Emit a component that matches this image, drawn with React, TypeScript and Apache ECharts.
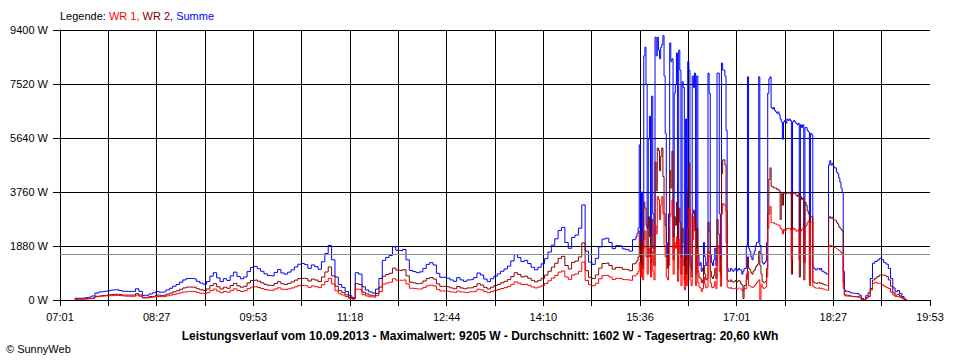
import React, { useEffect, useRef } from "react";
import * as echarts from "echarts";

// ---- axis definition ----
const AXIS_START = "07:01";
const AXIS_END = "19:53";
const GRID_DIVISIONS = 18;
const Y_MAX = 9400;
const Y_STEP = 1880;
const AVERAGE_W = 1602;

const LEGEND_LABEL = "Legende: ";
const SERIES_NAMES = ["WR 1", "WR 2", "Summe"];
const TITLE =
  "Leistungsverlauf vom 10.09.2013 - Maximalwert: 9205 W - Durchschnitt: 1602 W - Tagesertrag: 20,60 kWh";
const COPYRIGHT = "\u00A9 SunnyWeb";

// ---- morning: samples every 3 minutes from 07:14 ----
const MORNING_START = "07:14";
const MORNING_STEP = 3;
const morningSum = [
  60, 60, 70, 90, 110, 140, 240, 280, 300, 320,
  340, 355, 360, 330, 305, 300, 300, 300, 390, 300,
  160, 170, 210, 250, 295, 270, 290, 350, 410, 480,
  540, 620, 700, 750, 750, 730, 650, 590, 550, 640,
  830, 950, 770, 640, 740, 680, 840, 970, 820, 740,
  800, 990, 1130, 1170, 1090, 1000, 910, 850, 840, 960,
  1060, 940, 900, 970, 1050, 1150, 1245, 1270, 1230, 1100,
  1220, 1160, 1070, 1330, 1620, 1900, 1400, 800, 540, 440,
  300, 150, 80, 950, 900, 460, 350, 280, 240, 380,
  750, 1380, 1480, 1550, 1850, 1730, 1710, 1760, 1400, 1030,
  990, 950, 980, 1100, 1240, 1300, 1220, 930, 790, 790,
  760, 700, 650, 780, 700, 650, 700, 720, 780, 940,
  870, 730, 640, 740, 830, 910, 1000, 1080, 1180, 1360,
  1580, 1480, 1340, 1380, 1270, 1140, 1050, 1140, 1260, 1440,
  1670, 1910, 2130, 2420, 2530, 2000, 1800, 2180, 2260, 2500,
  3310, 1700, 1320, 1240, 1450, 1850, 2120, 2150, 2000, 1790,
  1890, 1880, 1780, 1750, 1700, 2100,
];
const morningWR2 = [
  30, 30, 40, 50, 60, 80, 130, 150, 160, 170,
  190, 200, 200, 180, 170, 170, 170, 170, 220, 170,
  90, 95, 120, 140, 170, 155, 170, 205, 240, 285,
  320, 370, 420, 450, 450, 440, 390, 355, 330, 385,
  500, 570, 460, 385, 445, 410, 505, 580, 490, 445,
  480, 595, 680, 700, 655, 600, 545, 510, 505, 575,
  635, 565, 540, 580, 630, 690, 745, 760, 740, 660,
  730, 695, 640, 800, 975, 1150, 840, 480, 325, 265,
  180, 90, 50, 570, 540, 275, 210, 170, 145, 230,
  450, 830, 890, 930, 1110, 1040, 1025, 1055, 840, 620,
  595, 570, 590, 660, 745, 780, 730, 560, 475, 475,
  455, 420, 390, 470, 420, 390, 420, 430, 470, 565,
  520, 440, 385, 445, 500, 545, 600, 650, 710, 815,
  950, 890, 805, 830, 760, 685, 630, 685, 755, 865,
  1000, 1145, 1280, 1450, 1520, 1200, 1080, 1310, 1355, 1500,
  1990, 1020, 790, 745, 870, 1110, 1270, 1290, 1200, 1075,
  1135, 1130, 1070, 1050, 1020, 1260,
];
const morningWR1 = [
  30, 30, 30, 40, 50, 60, 110, 130, 140, 150,
  150, 155, 160, 150, 135, 130, 130, 130, 170, 130,
  70, 75, 90, 110, 125, 115, 120, 145, 170, 195,
  220, 250, 280, 300, 300, 290, 260, 235, 220, 255,
  330, 380, 310, 255, 295, 270, 335, 390, 330, 295,
  320, 395, 450, 470, 435, 400, 365, 340, 335, 385,
  425, 375, 360, 390, 420, 460, 500, 510, 490, 440,
  490, 465, 430, 530, 645, 750, 560, 320, 215, 175,
  120, 60, 30, 380, 360, 185, 140, 110, 95, 150,
  300, 550, 590, 620, 740, 690, 685, 705, 560, 410,
  395, 380, 390, 440, 495, 520, 490, 370, 315, 315,
  305, 280, 260, 310, 280, 260, 280, 290, 310, 375,
  350, 290, 255, 295, 330, 365, 400, 430, 470, 545,
  630, 590, 535, 550, 510, 455, 420, 455, 505, 575,
  670, 765, 850, 970, 1010, 800, 720, 870, 905, 1000,
  1320, 680, 530, 495, 580, 740, 850, 860, 800, 715,
  755, 750, 710, 700, 680, 840,
];

// ---- afternoon: samples every minute from 15:32 ----
const AFTERNOON_START = "15:32";
const AFTERNOON_STEP = 1;
const afternoonSum = [
  2200, 2320, 2500, 5400, 2000, 3760, 1800, 8500, 8800, 7500,
  2500, 5600, 6400, 2200, 7100, 3000, 1800, 9150, 8500, 9150,
  8700, 8400, 8800, 8900, 9205, 7800, 5800, 2000, 1500, 3000,
  8950, 8300, 8400, 2200, 7200, 7500, 8600, 1700, 8700, 8000,
  1500, 7600, 7400, 1200, 6300, 1400, 8300, 8000, 1500, 1100,
  7800, 7400, 7900, 1300, 7800, 1600, 1200, 1300, 1000, 1100,
  2000, 1500, 1200, 1300, 7900, 7200, 1600, 1300, 1200, 1400,
  1800, 1200, 7900, 7900, 3000, 1400, 8250, 8000, 8000, 7800,
  5900, 1100, 1000, 1000, 1100, 1050, 1000, 1050, 1100, 1000,
  1050, 1100, 1050, 1050, 900, 1000, 1100, 1100, 1900, 7770,
  1800, 1700, 1500, 1400, 1600, 1700, 1900, 2000, 2000, 7770,
  1900, 1600, 1300, 1250, 1300, 1350, 2000, 7200, 7700, 7770,
  6700, 6650, 6700, 6600, 6550, 6500, 6550, 6450, 6300, 6200,
  5600, 6200, 6250, 6150, 6300, 6250, 6300, 6250, 1500, 6200,
  6250, 6200, 6150, 6100, 6150, 1400, 6100, 6000, 6100, 1300,
  6000, 6000, 5900, 5850, 1200, 5800, 5750, 1150, 1100, 1050,
  1050, 1100, 1100, 1050, 1100, 1000, 1000, 950, 950, 900,
  900, 4700, 4850, 4700, 4750, 4650, 4600, 4600, 4450, 4400,
  4250, 4100, 3900, 3750, 1000, 350, 300,
];
const afternoonWR2 = [
  1320, 1380, 1500, 2400, 1200, 2000, 1100, 3400, 3200, 2600,
  1500, 2900, 2200, 1300, 2800, 1800, 1200, 4800, 3800, 5290,
  5200, 4500, 5000, 5290, 4300, 3000, 2600, 1500, 1100, 1900,
  4500, 3900, 5180, 1400, 2900, 2600, 3400, 1100, 3200, 2700,
  900, 2500, 2000, 700, 1500, 900, 3800, 4760, 1200, 800,
  3000, 3130, 2900, 900, 2500, 1000, 800, 750, 600, 700,
  1200, 900, 700, 750, 2700, 2400, 1000, 800, 750, 850,
  1100, 750, 2800, 2300, 1600, 850, 4400, 4880, 4880, 4700,
  3100, 700, 650, 650, 700, 650, 620, 640, 680, 620,
  650, 680, 650, 560, 520, 50, 500, 520, 900, 1500,
  1100, 1050, 950, 900, 1000, 1050, 1150, 1200, 1250, 1700,
  1200, 900, 650, 600, 620, 650, 1100, 3000, 4200, 4600,
  3950, 3950, 3900, 3900, 3900, 3850, 3850, 3800, 2800, 3700,
  3300, 3720, 3700, 3700, 3750, 3720, 3750, 3700, 900, 3700,
  3750, 3700, 3650, 3600, 3700, 800, 3600, 3500, 3550, 700,
  3400, 3300, 3100, 3000, 700, 2900, 2900, 650, 600, 580,
  570, 600, 620, 580, 600, 560, 560, 530, 520, 500,
  500, 2850, 2900, 2850, 2880, 2800, 2780, 2770, 2700, 2650,
  2550, 2500, 2450, 2400, 600, 200, 170,
];
const afternoonWR1 = [
  880, 920, 1000, 1300, 800, 1200, 700, 2100, 2400, 1500,
  900, 1800, 1500, 800, 1700, 1000, 700, 2600, 2300, 3600,
  3500, 2800, 3300, 3600, 3000, 1900, 1500, 800, 700, 1200,
  2900, 3000, 3480, 900, 2000, 1800, 2200, 650, 2100, 1600,
  500, 1500, 1200, 350, 900, 500, 2500, 3200, 700, 500,
  2100, 2900, 2400, 500, 1800, 600, 450, 420, 300, 400,
  800, 550, 420, 450, 1700, 1500, 600, 450, 420, 480,
  650, 400, 1900, 1600, 1000, 480, 3000, 3360, 3300, 3300,
  2000, 450, 420, 400, 430, 400, 380, 400, 420, 380,
  400, 420, 400, 380, 330, 350, 400, 380, 700, 1000,
  500, 480, 450, 430, 460, 500, 550, 600, 650, 700,
  0, 550, 450, 400, 420, 450, 800, 2500, 3000, 3250,
  2700, 2680, 2700, 2650, 2650, 2620, 2600, 2600, 2500, 2450,
  2300, 2450, 2400, 2450, 2500, 2480, 2500, 2450, 1400, 2450,
  2500, 2450, 2400, 2400, 2450, 1400, 2400, 2450, 2500, 1300,
  2550, 2600, 2700, 2750, 500, 2700, 2700, 480, 450, 420,
  400, 420, 430, 400, 420, 390, 380, 360, 350, 340,
  330, 1850, 1900, 1880, 1870, 1850, 1820, 1800, 1780, 1750,
  1720, 1700, 1650, 1600, 400, 150, 130,
];

// ---- evening: samples every 2 minutes from 18:40 ----
const EVENING_START = "18:40";
const EVENING_STEP = 2;
const eveningSum = [
  290, 250, 230, 230, 220, 170, 50, 20, 150, 250,
  750, 1280, 1340, 1390, 1450, 1400, 1300, 1250, 1100, 750,
  420, 290, 330, 230, 120, 30, 0,
];
const eveningWR2 = [
  150, 130, 120, 120, 110, 90, 20, 10, 80, 130,
  400, 700, 760, 820, 870, 870, 850, 820, 700, 480,
  250, 170, 200, 140, 70, 20, 0,
];
const eveningWR1 = [
  140, 120, 110, 110, 100, 80, 20, 10, 70, 120,
  350, 580, 620, 580, 560, 530, 480, 430, 400, 270,
  170, 120, 130, 90, 50, 10, 0,
];

const COLORS = { wr1: "#ff0000", wr2: "#800000", sum: "#0000ff", avg: "#8c8c8c" };
const FONT = "Liberation Sans";

function toMin(s: string): number {
  const [h, m] = s.split(":").map(Number);
  return h * 60 + m;
}
function fmtTime(min: number): string {
  const t = Math.round(min);
  const h = Math.floor(t / 60);
  const m = t % 60;
  return `${String(h).padStart(2, "0")}:${String(m).padStart(2, "0")}`;
}

const T0 = toMin(AXIS_START);
const SPAN = toMin(AXIS_END) - T0;
const X_INTERVAL = SPAN / GRID_DIVISIONS;

type Seg = { start: string; step: number; values: number[] };
function points(segs: Seg[]): [number, number][] {
  const out: [number, number][] = [];
  segs.forEach((s) => {
    const s0 = toMin(s.start) - T0;
    s.values.forEach((v, i) => out.push([s0 + i * s.step, v]));
  });
  return out;
}

export default function App() {
  const ref = useRef<HTMLDivElement>(null);
  useEffect(() => {
    if (!ref.current) return;
    const chart = echarts.init(ref.current, null, { renderer: "svg" });
    const segs = (m: number[], a: number[], e: number[]): Seg[] => [
      { start: MORNING_START, step: MORNING_STEP, values: m },
      { start: AFTERNOON_START, step: AFTERNOON_STEP, values: a },
      { start: EVENING_START, step: EVENING_STEP, values: e },
    ];
    const sumPts = points(segs(morningSum, afternoonSum, eveningSum));
    const wr2Pts = points(segs(morningWR2, afternoonWR2, eveningWR2));
    const wr1Pts = points(segs(morningWR1, afternoonWR1, eveningWR1));

    const lineSeries = (name: string, data: [number, number][], color: string, extra: any = {}) => ({
      name,
      type: "line",
      data,
      step: "end",
      symbol: "none",
      showSymbol: false,
      lineStyle: { color, width: 1 },
      itemStyle: { color },
      emphasis: { disabled: true },
      ...extra,
    });

    const option: any = {
      animation: false,
      backgroundColor: "#ffffff",
      textStyle: { fontFamily: FONT },
      grid: { left: 60, right: 30, top: 30, bottom: 60, containLabel: false },
      xAxis: {
        type: "value",
        min: 0,
        max: SPAN,
        interval: X_INTERVAL,
        axisLine: { show: true, lineStyle: { color: "#000", width: 1 } },
        axisTick: { show: true, length: 6, lineStyle: { color: "#000", width: 1 } },
        axisLabel: {
          margin: 11,
          color: "#000",
          fontSize: 11,
          fontFamily: FONT,
          hideOverlap: false,
          showMinLabel: true,
          showMaxLabel: true,
          formatter: (v: number) => {
            const idx = Math.round(v / X_INTERVAL);
            if (idx % 2 !== 0) return "";
            return fmtTime(T0 + idx * X_INTERVAL);
          },
        },
        splitLine: {
          show: true,
          showMaxLine: false,
          lineStyle: { color: "#000", width: 1 },
        },
      },
      yAxis: {
        type: "value",
        min: 0,
        max: Y_MAX,
        interval: Y_STEP,
        axisLine: { show: true, lineStyle: { color: "#000", width: 1 } },
        axisTick: { show: true, length: 7, lineStyle: { color: "#000", width: 1 } },
        axisLabel: {
          margin: 12,
          color: "#000",
          fontSize: 11,
          fontFamily: FONT,
          formatter: (v: number) => `${v} W`,
        },
        splitLine: { show: true, lineStyle: { color: "#000", width: 1 } },
      },
      series: [
        lineSeries(SERIES_NAMES[2], sumPts, COLORS.sum),
        lineSeries(SERIES_NAMES[1], wr2Pts, COLORS.wr2),
        lineSeries(SERIES_NAMES[0], wr1Pts, COLORS.wr1, {
          markLine: {
            silent: true,
            symbol: ["none", "none"],
            label: { show: false },
            lineStyle: { color: COLORS.avg, type: "solid", width: 1 },
            data: [{ yAxis: AVERAGE_W }],
          },
        }),
      ],
      graphic: [
        {
          type: "text",
          left: 60,
          top: 10,
          style: {
            text: `{k|${LEGEND_LABEL}}{a|${SERIES_NAMES[0]}, }{b|${SERIES_NAMES[1]}, }{c|${SERIES_NAMES[2]}}`,
            font: `11px '${FONT}'`,
            rich: {
              k: { fill: "#000", fontSize: 11, fontFamily: FONT },
              a: { fill: COLORS.wr1, fontSize: 11, fontFamily: FONT },
              b: { fill: COLORS.wr2, fontSize: 11, fontFamily: FONT },
              c: { fill: COLORS.sum, fontSize: 11, fontFamily: FONT },
            },
          },
        },
        {
          type: "text",
          left: "center",
          top: 330,
          style: {
            text: TITLE,
            fill: "#000",
            font: `bold 12px '${FONT}'`,
          },
        },
        {
          type: "text",
          left: 6,
          top: 343,
          style: {
            text: COPYRIGHT,
            fill: "#000",
            font: `11px '${FONT}'`,
          },
        },
      ],
    };
    chart.setOption(option);
    return () => chart.dispose();
  }, []);
  return (
    <div
      ref={ref}
      style={{ position: "fixed", left: 0, top: 0, width: 960, height: 360, background: "#fff" }}
    />
  );
}
